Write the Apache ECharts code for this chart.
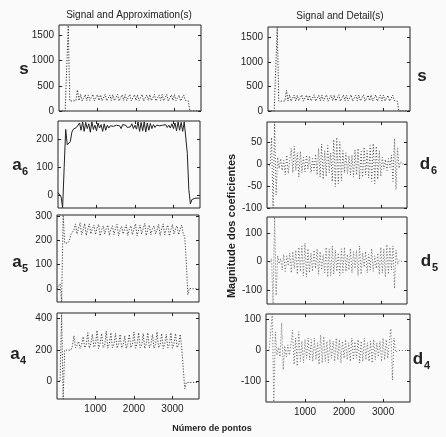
<!DOCTYPE html>
<html>
<head>
<meta charset="utf-8">
<script src="https://cdn.jsdelivr.net/npm/echarts@6/dist/echarts.min.js"></script>
<style>
html, body { margin: 0; padding: 0; background: #fafafa; }
#main { width: 446px; height: 437px; }
</style>
</head>
<body>
<div id="main"></div>
<script>
// posições das amostras (número de pontos)
var pontos = [
    0, 40, 80, 120, 160, 200, 240, 280, 320, 360,
    400, 440, 480, 520, 560, 600, 640, 680, 720, 760,
    800, 840, 880, 920, 960, 1000, 1040, 1080, 1120, 1160,
    1200, 1240, 1280, 1320, 1360, 1400, 1440, 1480, 1520, 1560,
    1600, 1640, 1680, 1720, 1760, 1800, 1840, 1880, 1920, 1960,
    2000, 2040, 2080, 2120, 2160, 2200, 2240, 2280, 2320, 2360,
    2400, 2440, 2480, 2520, 2560, 2600, 2640, 2680, 2720, 2760,
    2800, 2840, 2880, 2920, 2960, 3000, 3040, 3080, 3120, 3160,
    3200, 3240, 3280, 3320, 3360, 3400, 3440, 3480, 3520, 3560,
    3600, 3640, 3680
];

// sinal original (s)
var sinal = [
    0, 0, 0, 0, 0, 0, 1700, 200, 195, 200,
    200, 205, 420, 205, 330, 200, 225, 325, 205, 320,
    210, 225, 330, 200, 220, 325, 210, 320, 205, 225,
    330, 200, 220, 320, 210, 325, 205, 220, 330, 200,
    225, 320, 210, 325, 205, 220, 330, 200, 225, 325,
    210, 320, 205, 220, 330, 200, 225, 320, 210, 325,
    205, 220, 330, 200, 225, 320, 210, 325, 205, 220,
    330, 200, 225, 320, 210, 325, 205, 220, 315, 200,
    225, 320, 215, 205, 200, 0, 0, 0, 0, 0,
    0, 0, 0
];

// aproximações
var a6 = [
    10, 15, -5, -44, 100, 235, 180, 175, 192, 225,
    236, 238, 242, 248, 258, 232, 262, 228, 260, 238,
    255, 225, 262, 235, 250, 230, 258, 240, 252, 228,
    255, 232, 250, 240, 248, 242, 246, 240, 250, 244,
    248, 238, 252, 245, 250, 242, 248, 244, 255, 238,
    250, 236, 262, 228, 260, 230, 262, 226, 258, 232,
    256, 238, 252, 242, 250, 246, 248, 244, 250, 246,
    252, 242, 250, 240, 255, 238, 258, 230, 262, 232,
    260, 228, 262, 255, 150, 20, -30, -15, -8, -10,
    -10, -10, -10
];
var a5 = [
    0, 5, 20, -55, 307, 190, 195, 190, 200, 225,
    235, 245, 270, 228, 250, 275, 225, 245, 272, 222,
    248, 270, 228, 250, 265, 225, 252, 268, 220, 245,
    262, 228, 250, 265, 222, 248, 262, 225, 250, 268,
    220, 245, 260, 228, 250, 266, 222, 248, 262, 225,
    250, 270, 220, 245, 265, 228, 250, 272, 222, 248,
    265, 225, 250, 262, 228, 245, 268, 222, 250, 270,
    225, 248, 265, 220, 245, 268, 228, 250, 262, 225,
    248, 265, 230, 215, 110, -25, 2, -3, 0, 0,
    0, 0, 0
];
var a4 = [
    0, 0, 5, 435, -110, 200, 198, 200, 195, 200,
    225, 290, 215, 230, 255, 210, 235, 285, 215, 230,
    310, 212, 240, 300, 218, 235, 325, 210, 240, 305,
    215, 230, 320, 212, 240, 310, 215, 235, 305, 212,
    238, 300, 215, 232, 290, 210, 240, 300, 215, 235,
    315, 212, 238, 310, 215, 232, 305, 210, 240, 310,
    215, 235, 300, 212, 238, 315, 215, 232, 305, 210,
    240, 300, 215, 235, 310, 212, 238, 305, 215, 230,
    300, 220, 225, -45, -5, -5, -5, -5, -5, -5,
    -5, -5, -5
];

// detalhes
var d6 = [
    0, 2, -5, 60, -100, 95, -70, 15, -10, 12,
    -15, 8, -25, 20, -22, 10, 35, -20, 40, -15,
    25, -30, 28, -20, 15, -18, 20, -12, 18, -20,
    12, -15, 22, -25, 35, -30, 45, -35, 30, -28,
    42, -20, 25, -40, 55, -52, 60, -45, 50, -38,
    30, -20, 25, -22, 18, -25, 20, -30, 32, -25,
    35, -35, 28, -30, 38, -25, 30, -32, 42, -40,
    46, -45, 40, -35, 30, -28, 15, -12, 10, -15,
    12, -8, 20, -40, 57, -58, 35, -10, 5, 0,
    2, 0, 0
];
var d5 = [
    0, 0, -3, 10, -150, 157, -120, 20, -8, 10,
    -30, 25, -35, 20, -15, 30, -40, 35, -25, 40,
    -45, 50, -35, 55, -50, 65, -55, 45, -40, 30,
    -35, 40, -25, 45, -45, 35, -30, 25, -40, 50,
    -55, 45, -50, 55, -45, 40, -35, 30, -50, 45,
    -40, 50, -35, 25, -30, 45, -40, 35, -25, 40,
    -50, 55, -45, 30, -20, 35, -40, 25, -30, 45,
    -35, 20, -25, 30, -45, 50, -40, 45, -55, 60,
    -45, 50, -30, 55, -95, 40, -10, 3, 0, 0,
    0, 0, 0
];
var d4 = [
    0, 0, 0, 2, 117, -165, 60, -15, 10, -20,
    88, -62, 15, -20, 18, -15, 20, 65, -45, 40,
    -50, 60, -35, 30, -40, 35, -25, 40, -30, 35,
    -35, 40, -30, 25, -45, 50, -40, 45, -35, 30,
    -40, 35, -25, 30, -35, 40, -30, 35, -40, 30,
    -25, 35, -30, 25, -35, 40, -30, 28, -25, 35,
    -40, 30, -35, 40, -30, 25, -35, 30, -40, 35,
    -30, 25, -20, 30, -35, 40, -30, 35, -25, 30,
    70, -95, 40, -5, 0, 0, 0, 0, 0, 0,
    0, 0, 0
];

// marcas dos eixos
var ticksX = [1000, 2000, 3000];
var ticksS = [0, 500, 1000, 1500];
var ticksA6 = [0, 100, 200];
var ticksA5 = [0, 100, 200, 300];
var ticksA4 = [0, 200, 400];
var ticksD6 = [-100, -50, 0, 50];
var ticksD5 = [-100, 0, 100];
var ticksD4 = [-100, 0, 100];

var chart = echarts.init(document.getElementById('main'));
var fonte = '"Liberation Sans", Arial, sans-serif';
var tinta = '#222';
var pontilhado = [1.2, 1.6];
var pontilhadoRalo = [1, 2];

// um painel por quadro
var paineis = [
    { caixa: { left: 59, top: 25, width: 142, height: 86 }, y: sinal, min: 0, max: 1711, ticks: ticksS, base: false, linha: pontilhado, cor: '#333' },
    { caixa: { left: 58, top: 121, width: 142, height: 87 }, y: a6, min: -45, max: 265, ticks: ticksA6, base: false, linha: 'solid', cor: '#222' },
    { caixa: { left: 57, top: 215, width: 142, height: 87 }, y: a5, min: -55, max: 307, ticks: ticksA5, base: false, linha: pontilhado, cor: '#444' },
    { caixa: { left: 57, top: 313, width: 142, height: 86 }, y: a4, min: -110, max: 435, ticks: ticksA4, base: true, linha: pontilhado, cor: '#444' },
    { caixa: { left: 268, top: 27, width: 142, height: 84 }, y: sinal, min: 0, max: 1711, ticks: ticksS, base: false, linha: pontilhado, cor: '#333' },
    { caixa: { left: 267, top: 122, width: 140, height: 86 }, y: d6, min: -100, max: 95, ticks: ticksD6, base: false, linha: pontilhadoRalo, cor: '#555' },
    { caixa: { left: 267, top: 217, width: 140, height: 87 }, y: d5, min: -150, max: 157, ticks: ticksD5, base: false, linha: pontilhadoRalo, cor: '#666' },
    { caixa: { left: 266, top: 314, width: 144, height: 88 }, y: d4, min: -165, max: 117, ticks: ticksD4, base: true, linha: pontilhadoRalo, cor: '#666' }
];

var grids = [], eixosX = [], eixosY = [], series = [];
var semVirgula = function (v) { return String(v); };

paineis.forEach(function (p, k) {
    grids.push(Object.assign({ show: true, borderColor: tinta, borderWidth: 1, backgroundColor: 'transparent' }, p.caixa));

    ['bottom', 'top'].forEach(function (pos) {
        eixosX.push({
            type: 'value', gridIndex: k, position: pos, min: 0, max: 3690,
            axisLine: { show: false, onZero: false }, splitLine: { show: false },
            axisTick: { inside: true, length: 3, customValues: ticksX, lineStyle: { color: tinta } },
            axisLabel: { show: p.base && pos === 'bottom', customValues: ticksX, formatter: semVirgula, margin: 5, fontSize: 10, color: tinta, fontFamily: fonte }
        });
    });
    ['left', 'right'].forEach(function (pos) {
        eixosY.push({
            type: 'value', gridIndex: k, position: pos, min: p.min, max: p.max,
            axisLine: { show: false, onZero: false }, splitLine: { show: false },
            axisTick: { inside: true, length: 3, customValues: p.ticks, lineStyle: { color: tinta } },
            axisLabel: { show: pos === 'left', customValues: p.ticks, formatter: semVirgula, margin: 5, fontSize: 10, color: tinta, fontFamily: fonte }
        });
    });

    series.push({
        type: 'line',
        xAxisIndex: 2 * k,
        yAxisIndex: 2 * k,
        data: pontos.map(function (x, i) { return [x, p.y[i]]; }),
        showSymbol: false,
        symbol: 'none',
        lineStyle: { color: p.cor, width: 1, type: p.linha },
        silent: true
    });
});

// textos soltos: títulos, nomes das linhas e eixos
function texto(t, x, y, fonteCss, extra) {
    return Object.assign({
        type: 'text', x: x, y: y, silent: true,
        style: { text: t, font: fonteCss, fill: tinta, textAlign: 'center', textVerticalAlign: 'middle' }
    }, extra || {});
}
var negrito = 'bold 17px ' + fonte;
var indice = 'bold 11px ' + fonte;

var textos = [
    texto('Signal and Approximation(s)', 129, 15, '10px ' + fonte),
    texto('Signal and Detail(s)', 340, 16, '10px ' + fonte),
    texto('s', 24, 69, negrito),
    texto('a', 17, 165, negrito), texto('6', 25, 172, indice),
    texto('a', 17, 262, negrito), texto('5', 25, 269, indice),
    texto('a', 15, 354, negrito), texto('4', 23, 361, indice),
    texto('s', 422, 76, negrito),
    texto('d', 425, 164, negrito), texto('6', 434, 171, indice),
    texto('d', 426, 261, negrito), texto('5', 435, 268, indice),
    texto('d', 418, 359, negrito), texto('4', 427, 366, indice),
    texto('Magnitude dos coeficientes', 232, 226, 'bold 11px ' + fonte, { rotation: Math.PI / 2 }),
    texto('Número de pontos', 212, 429, 'bold 9px ' + fonte)
];

var option = {
    backgroundColor: '#fafafa',
    animation: false,
    grid: grids,
    xAxis: eixosX,
    yAxis: eixosY,
    series: series,
    graphic: textos
};

chart.setOption(option);
</script>
</body>
</html>
